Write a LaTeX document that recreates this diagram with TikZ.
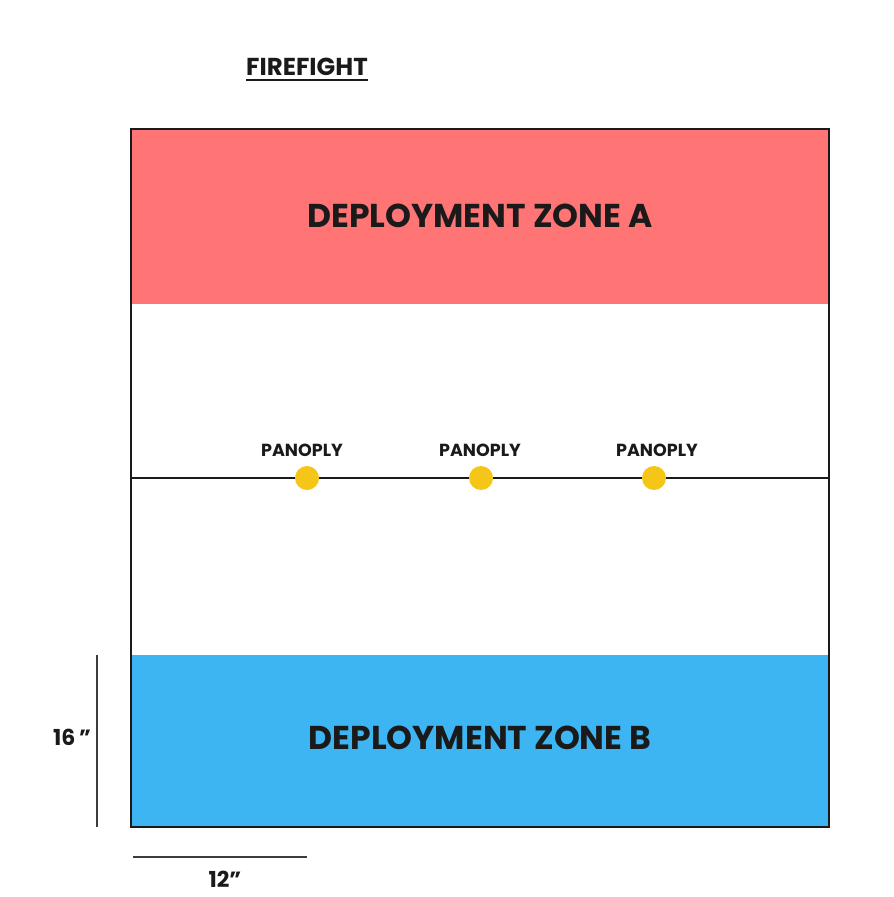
\documentclass[tikz,border=0pt]{standalone}
\usepackage{fontspec}
\setmainfont{Poppins}
\definecolor{zonered}{HTML}{FF7474}
\definecolor{zoneblue}{HTML}{3DB5F3}
\definecolor{dotyellow}{HTML}{F5C518}
\definecolor{ink}{HTML}{1A1A1A}
\begin{document}
\begin{tikzpicture}[x=1pt,y=-1pt,
  zone/.style={font=\fontsize{33}{33}\selectfont\bfseries, text=ink},
  panlabel/.style={font=\fontsize{17.5}{18}\selectfont\bfseries, text=ink, anchor=base},
  dot/.style={circle, fill=dotyellow, inner sep=0pt, minimum size=24pt},
  measure/.style={line width=1.8pt, draw=ink!85},
  dim/.style={font=\fontsize{22}{22}\selectfont\bfseries, text=ink, inner sep=0pt}]
\useasboundingbox (0,0) rectangle (894,897);
\fill[zonered] (131,129) rectangle (829,304);
\fill[zoneblue] (131,655) rectangle (829,827);
\draw[line width=1.6pt, draw=ink] (131,129) rectangle (829,827);
\coordinate (ml) at (131,478);
\coordinate (mr) at (829,478);
\draw[line width=1.4pt, draw=ink] (ml) -- (mr);
\node[zone] (za) at (480,216) {DEPLOYMENT ZONE A};
\node[zone] (zb) at (480,738) {DEPLOYMENT ZONE B};
\node[dot] (d1) at (307,478) {};
\node[dot] (d2) at (481,478) {};
\node[dot] (d3) at (654,478) {};
\node[panlabel] (p1) at (302,456) {PANOPLY};
\node[panlabel] (p2) at (480,456) {PANOPLY};
\node[panlabel] (p3) at (657,456) {PANOPLY};
\node[font=\fontsize{24.5}{25}\selectfont\bfseries, text=ink, inner sep=0pt] (title) at (307,67) {FIREFIGHT};
\draw[line width=1.8pt, draw=ink] ([yshift=-4pt]title.south west) -- ([yshift=-4pt]title.south east);
\coordinate (v1) at (97,655);
\coordinate (v2) at (97,827);
\draw[measure] (v1) -- (v2);
\coordinate (h1) at (133,857);
\coordinate (h2) at (307,857);
\draw[measure] (h1) -- (h2);
\node[dim, anchor=base] (l16) at (72,745) {16\,''};
\node[dim, anchor=base] (l12) at (225,887) {12''};
\end{tikzpicture}
\end{document}
